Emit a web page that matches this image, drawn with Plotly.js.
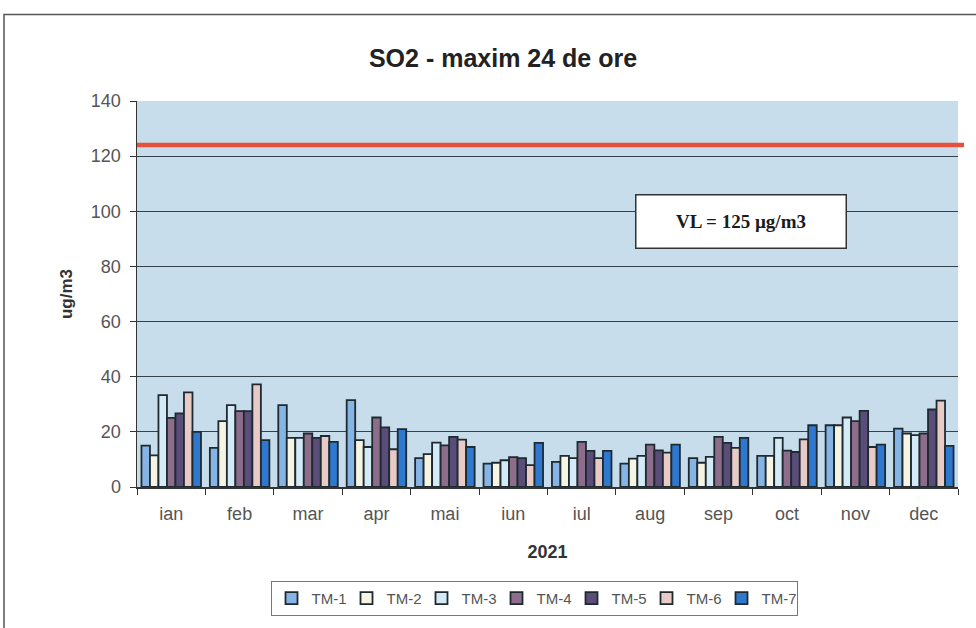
<!DOCTYPE html>
<html>
<head>
<meta charset="utf-8">
<script src="https://cdn.plot.ly/plotly-3.0.1.min.js"></script>
<style>
html,body{margin:0;padding:0;background:#ffffff;}
#chart{width:976px;height:628px;}
</style>
</head>
<body>
<div id="chart"></div>
<script>
const months = ['ian','feb','mar','apr','mai','iun','iul','aug','sep','oct','nov','dec'];
const seriesNames = ['TM-1','TM-2','TM-3','TM-4','TM-5','TM-6','TM-7'];
const tm1 = [15, 14.2, 29.7, 31.5, 10.5, 8.5, 9.1, 8.5, 10.5, 11.3, 22.4, 21.2];
const tm2 = [11.5, 23.9, 17.8, 17, 11.9, 8.8, 11.3, 10.3, 8.8, 11.3, 22.4, 19.4];
const tm3 = [33.3, 29.7, 17.8, 14.5, 16.1, 9.7, 10.5, 11.3, 10.9, 17.8, 25.2, 18.8];
const tm4 = [25.1, 27.5, 19.4, 25.2, 15.1, 10.8, 16.4, 15.4, 18.2, 13.2, 23.9, 19.4];
const tm5 = [26.7, 27.5, 17.8, 21.6, 18.2, 10.5, 13.1, 13.3, 16, 12.7, 27.6, 28.1];
const tm6 = [34.3, 37.2, 18.5, 13.7, 17.2, 7.9, 10.5, 12.5, 14.2, 17.3, 14.5, 31.3];
const tm7 = [20, 17, 16.4, 21, 14.5, 16, 13.1, 15.4, 17.8, 22.4, 15.4, 14.9];
const limitValue = 124;
const limitLabel = 'VL = 125 µg/m3';
const yTicks = [0, 20, 40, 60, 80, 100, 120, 140];

const seriesValues = [tm1, tm2, tm3, tm4, tm5, tm6, tm7];
const colors = ['#86b4e4', '#f6f5e4', '#d4eaf6', '#8e6d8c', '#5b4d7a', '#e8cac6', '#2e78d0'];

const traces = seriesNames.map((name, i) => ({
  type: 'bar',
  name: name,
  x: months,
  y: seriesValues[i],
  marker: {color: colors[i], line: {color: '#1e2a30', width: 1.8}},
  hoverinfo: 'x+y+name'
}));

const L = 137, R = 958, T = 101, B = 489;
const pw = R - L, ph = B - T;
function px(x){ return (x - L) / pw; }
function py(y){ return (B - y) / ph; }

const layout = {
  width: 976, height: 628,
  margin: {l: L, r: 976 - R, t: T, b: 628 - B, pad: 0},
  paper_bgcolor: '#ffffff',
  plot_bgcolor: '#c7ddeb',
  font: {family: 'Liberation Sans, Arial, sans-serif', color: '#555555', size: 15},
  title: {
    text: '<b>SO2 - maxim 24 de ore</b>',
    font: {family: 'Liberation Sans, Arial, sans-serif', size: 25, color: '#222222'},
    x: 503 / 976, xref: 'container', xanchor: 'center',
    y: 1 - 58 / 628, yref: 'container', yanchor: 'middle'
  },
  barmode: 'group',
  bargap: 0.13,
  bargroupgap: 0,
  showlegend: true,
  legend: {
    orientation: 'h',
    x: px(534), xanchor: 'center',
    y: py(601), yanchor: 'middle',
    bgcolor: '#ffffff',
    bordercolor: '#777777', borderwidth: 1,
    font: {size: 15, color: '#555555'},
    itemwidth: 30,
    entrywidth: 30, entrywidthmode: 'pixels',
    traceorder: 'normal'
  },
  xaxis: {
    type: 'category',
    showline: true, linecolor: '#333333', linewidth: 1.5,
    ticks: 'outside', ticklen: 6, tickcolor: '#333333',
    tickson: 'boundaries',
    ticklabelstandoff: 10,
    showgrid: false,
    tickfont: {size: 18, color: '#555555'},
    title: {text: '<b>2021</b>', font: {size: 18, color: '#333333'}, standoff: 22}
  },
  yaxis: {
    range: [0, 140],
    tickvals: yTicks,
    showline: true, linecolor: '#333333', linewidth: 1.5,
    ticks: 'outside', ticklen: 6, tickcolor: '#333333',
    ticklabelstandoff: 5,
    showgrid: true, gridcolor: '#33414a', gridwidth: 1,
    zeroline: false,
    tickfont: {size: 18, color: '#555555'},
    title: {text: '<b>ug/m3</b>', font: {size: 17, color: '#333333'}, standoff: 14}
  },
  shapes: [
    {type: 'rect', xref: 'paper', yref: 'paper', x0: px(4), x1: px(990), y0: py(14), y1: py(640),
     line: {color: '#555555', width: 1.5}, fillcolor: 'rgba(0,0,0,0)', layer: 'below'},
    {type: 'line', xref: 'paper', yref: 'y', x0: 0, x1: px(964), y0: limitValue, y1: limitValue,
     line: {color: '#e4523e', width: 4.5}}
  ],
  annotations: [
    {text: '<b>' + limitLabel + '</b>', xref: 'paper', yref: 'paper', x: px(741), y: py(222),
     xanchor: 'center', yanchor: 'middle', showarrow: false,
     font: {family: 'Liberation Serif, Times New Roman, serif', size: 19, color: '#1a1a1a'},
     bgcolor: '#ffffff', bordercolor: '#333333', borderwidth: 1.5,
     width: 207, height: 50}
  ]
};

Plotly.newPlot('chart', traces, layout, {displayModeBar: false, staticPlot: true});
</script>
</body>
</html>
